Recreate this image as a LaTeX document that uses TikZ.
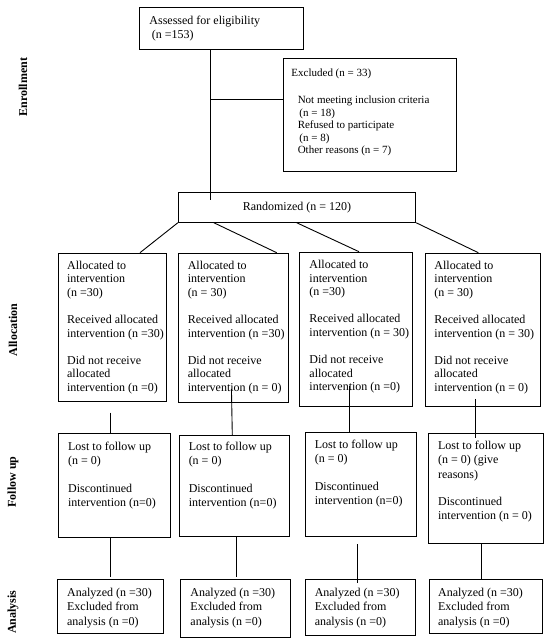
\documentclass[tikz,border=0pt]{standalone}
\usepackage{fontspec}
\setmainfont{Liberation Serif}
\usetikzlibrary{calc}
\newcommand\boxtxt[7]{\parbox[c][#2pt][t]{#1pt}{\fontsize{#5}{#6}\selectfont\vspace*{#4pt}\raggedright\leftskip=#3pt\relax\strut #7\par}}
\begin{document}
\begin{tikzpicture}[x=1pt,y=-1pt,
  box/.style={draw, line width=0.9pt, anchor=north west, inner sep=0pt},
  link/.style={line width=0.9pt},
  side/.style={rotate=90, font=\fontsize{12}{14}\selectfont\bfseries, inner sep=0pt}]
\useasboundingbox (0,0) rectangle (550,644);

% side labels
\node[side] (lenr) at (23,87) {Enrollment};
\node[side] (lall) at (13,330) {Allocation};
\node[side] (lfol) at (13,482) {Follow up};
\node[side] (lana) at (13,612) {Analysis};

% enrollment
\node[box] (assessed) at (139,7.3) {\boxtxt{163.7}{41.4}{10}{7.2}{12}{14}{Assessed for eligibility\\ \hspace*{2.5pt}(n =153)}};
\node[box] (excl) at (282.7,58.3) {\boxtxt{173}{112.4}{8.3}{9}{11}{12.5}{Excluded (n = 33)\\[14.8pt]\hspace*{6.3pt}Not meeting inclusion criteria\\ \hspace*{8pt}(n = 18)\\ \hspace*{6.3pt}Refused to participate\\ \hspace*{8pt}(n = 8)\\ \hspace*{6.3pt}Other reasons (n = 7)}};
\node[draw, line width=0.9pt, inner sep=0pt, minimum width=237.4pt, minimum height=30pt, font=\fontsize{12}{14}\selectfont] (rand) at (297,207.3) {\raisebox{2pt}{Randomized (n = 120)}};

\coordinate (tx) at (210.7,0);
\coordinate (bj) at (210.7,99.3);
\draw[link, shorten >=-8.4pt] (tx |- assessed.south) -- (tx |- rand.north);
\draw[link] (bj) -- (bj -| excl.west);

% allocation
\node[box] (a1) at (57.7,252.7) {\boxtxt{108.3}{148}{9}{6.3}{12}{13.8}{Allocated to\\ intervention\\ (n =30)\\[13pt]Received allocated\\ intervention (n =30)\\[13pt]Did not receive\\ allocated\\ intervention (n =0)}};
\node[box] (a2) at (178.3,252.7) {\boxtxt{109.4}{149.6}{9}{6.3}{12}{13.8}{Allocated to\\ intervention\\ (n = 30)\\[13pt]Received allocated\\ intervention (n =30)\\[13pt]Did not receive\\ allocated\\ intervention (n = 0)}};
\node[box] (a3) at (299,251.7) {\boxtxt{113.3}{154}{10}{6.5}{12}{13.8}{Allocated to\\ intervention\\ (n =30)\\[13pt]Received allocated\\ intervention (n = 30)\\[13pt]Did not receive\\ allocated\\ intervention (n =0)}};
\node[box] (a4) at (424.7,252.7) {\boxtxt{115.3}{153}{9.3}{6.3}{12}{13.8}{Allocated to\\ intervention\\ (n = 30)\\[13pt]Received allocated\\ intervention (n = 30)\\[13pt]Did not receive\\ allocated\\ intervention (n = 0)}};

\draw[link] (rand.south west) -- ([xshift=82.3pt]a1.north west);
\draw[link] ([xshift=36pt]rand.south west) -- ([xshift=98.4pt]a2.north west);
\draw[link] ([xshift=-0.3pt]rand.south) -- ([xshift=60pt]a3.north west);
\draw[link] (rand.south east) -- ([xshift=53.6pt]a4.north west);

% follow up
\node[box] (f1) at (58.3,433.3) {\boxtxt{111.7}{103.4}{9.4}{7}{12}{14.2}{Lost to follow up\\ (n = 0)\\[13.5pt]Discontinued\\ intervention (n=0)}};
\node[box] (f2) at (179,435) {\boxtxt{110.3}{100.7}{9.3}{5.3}{12}{14.2}{Lost to follow up\\ (n = 0)\\[13.5pt]Discontinued\\ intervention (n=0)}};
\node[box] (f3) at (305,432.3) {\boxtxt{110.7}{103.4}{9.3}{5.6}{12}{14.2}{Lost to follow up\\ (n = 0)\\[13.5pt]Discontinued\\ intervention (n=0)}};
\node[box] (f4) at (428.3,433.3) {\boxtxt{115}{109.4}{9.4}{6}{12}{14.2}{Lost to follow up\\ (n = 0) (give\\ reasons)\\[13.5pt]Discontinued\\ intervention (n = 0)}};

\draw[link, shorten <=11pt] ([xshift=52.3pt]a1.south west) -- ([xshift=51.7pt]f1.north west);
\draw[link, shorten <=-14.3pt] ([xshift=53.4pt]a2.south west) -- ([xshift=53.3pt]f2.north west);
\draw[link, shorten <=-20.7pt] ([xshift=50.3pt]a3.south west) -- ([xshift=44.3pt]f3.north west);
\draw[link, shorten <=-7.7pt, shorten >=-4.7pt] ([xshift=50.3pt]a4.south west) -- ([xshift=46.7pt]f4.north west);

% analysis
\node[box] (n1) at (57.3,579.3) {\boxtxt{106}{54}{9.4}{7}{12}{14.2}{Analyzed (n =30)\\ Excluded from\\ analysis (n =0)}};
\node[box] (n2) at (180.3,579.3) {\boxtxt{109.7}{57.4}{9.7}{7}{12}{14.2}{Analyzed (n =30)\\ Excluded from\\ analysis (n =0)}};
\node[box] (n3) at (305,579.3) {\boxtxt{110}{55.7}{9.3}{7}{12}{14.2}{Analyzed (n =30)\\ Excluded from\\ analysis (n =0)}};
\node[box] (n4) at (429,579.3) {\boxtxt{112.7}{54}{8.7}{7}{12}{14.2}{Analyzed (n =30)\\ Excluded from\\ analysis (n =0)}};

\draw[link, shorten >=2pt] ([xshift=52.4pt]f1.south west) -- ([xshift=53.4pt]n1.north west);
\draw[link, shorten >=2pt] ([xshift=57pt]f2.south west) -- ([xshift=55.7pt]n2.north west);
\draw[link, shorten <=7.6pt, shorten >=-3.7pt] ([xshift=52.7pt]f3.south west) -- ([xshift=52.7pt]n3.north west);
\draw[link] ([xshift=52.7pt]f4.south west) -- ([xshift=52pt]n4.north west);
\end{tikzpicture}
\end{document}
